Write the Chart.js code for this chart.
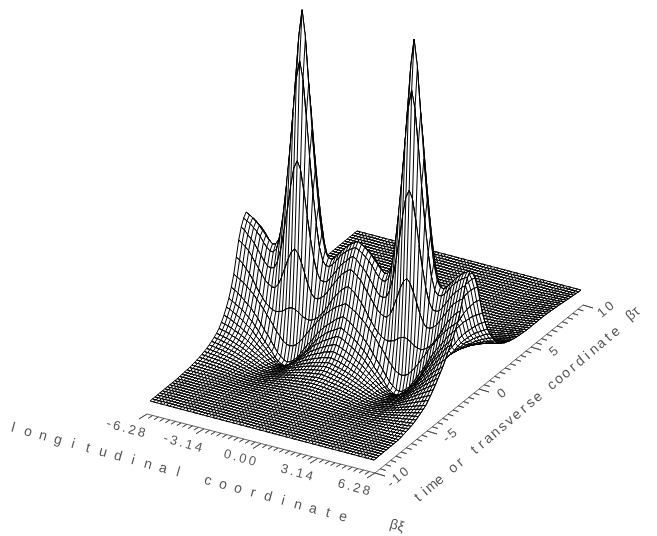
<!DOCTYPE html>
<html>
<head>
<meta charset="utf-8">
<style>
	body { margin: 0; background: #fff; }
	canvas { display: block; }
</style>
<script src="https://cdn.jsdelivr.net/npm/chart.js@4/dist/chart.umd.min.js"></script>
</head>
<body>
<canvas id="chart" width="657" height="536"></canvas>
<script>
// heights, one list per row away from the crest row,
// each going from the tall peak column (first) to the low lobe column (last)
const row0 = [327, 300, 255, 210, 170, 135, 108, 92, 86, 85, 88, 92, 96, 100, 103, 106, 108, 110];
const row1 = [278, 260, 225, 185, 150, 120, 97, 84, 80, 80, 83, 87, 92, 96, 99, 102, 104, 106];
const row2 = [180, 172, 152, 128, 106, 87, 74, 67, 66, 67, 71, 76, 81, 86, 90, 93, 97, 99];
const row3 = [94, 90, 82, 72, 62, 54, 50, 50, 52, 55, 60, 65, 70, 75, 80, 83, 86, 88];
const row4 = [37, 36, 34, 31, 30, 29, 30, 32, 35, 39, 44, 49, 55, 60, 64, 68, 71, 73];
const row5 = [1, 2, 4, 8, 12, 17, 22, 26, 31, 35, 39, 43, 46, 49, 52, 54, 56, 58];
const row6 = [-13, -12, -9, -6, -1, 4, 9, 13, 18, 23, 27, 31, 34, 37, 40, 43, 45, 47];
const row7 = [-15, -14, -12, -9, -4, 0, 4, 8, 13, 17, 21, 24, 27, 30, 32, 34, 36, 38];
const row8 = [-12.5, -12, -10, -7, -4, 0, 3, 7, 10, 14, 17, 19, 22, 24, 26, 28, 30, 31];
const row9 = [-10.5, -10, -8.5, -6.5, -3.5, -0.5, 2, 5, 8, 11, 13, 15, 17.5, 19, 21, 22.5, 24, 25];
const row10 = [-9, -8.5, -7.5, -5.5, -3, -1, 1.5, 4, 6, 8.5, 10.5, 12, 14, 15, 17, 18, 19, 20];
const row11 = [-8, -7.5, -6.5, -5, -3, -1, 0.5, 2.5, 4.5, 6.5, 8, 9.5, 11, 12, 13.5, 14.5, 15, 16];
const row12 = [-7, -6.8, -6, -4.8, -3, -1.6, 0, 1.6, 3.3, 5, 6.2, 7.5, 8.8, 9.8, 10.8, 11.5, 12.3, 13];
const row13 = [-6.5, -6, -5.5, -4.4, -3, -1.6, 0, 1.2, 2.6, 4, 5.2, 6.3, 7.3, 8.2, 9, 9.8, 10.5, 11];
const row14 = [-5.8, -5.5, -5, -4, -2.8, -1.6, -0.5, 0.7, 1.9, 3, 4.1, 5, 5.9, 6.6, 7.4, 8, 8.6, 9];
const row15 = [-5.1, -4.8, -4.3, -3.6, -2.6, -1.6, -0.6, 0.4, 1.4, 2.5, 3.3, 4.1, 4.9, 5.5, 6.1, 6.6, 7.1, 7.5];
const row16 = [-4.5, -4.3, -3.9, -3.2, -2.4, -1.5, -0.7, 0.1, 1, 1.8, 2.5, 3.2, 3.8, 4.3, 4.8, 5.3, 5.7, 6];
const row17 = [-3.9, -3.7, -3.4, -2.8, -2.1, -1.4, -0.7, 0, 0.7, 1.4, 2, 2.6, 3.1, 3.6, 4, 4.4, 4.7, 5];
const row18 = [-3.3, -3.2, -2.9, -2.4, -1.8, -1.2, -0.7, -0.1, 0.5, 1.1, 1.6, 2, 2.5, 2.8, 3.2, 3.5, 3.8, 4];
const row19 = [-2.8, -2.7, -2.4, -2.1, -1.6, -1.1, -0.6, -0.2, 0.3, 0.8, 1.2, 1.6, 1.9, 2.2, 2.5, 2.8, 3, 3.2];
const row20 = [-2.3, -2.2, -2, -1.7, -1.3, -0.9, -0.6, -0.2, 0.2, 0.6, 0.9, 1.2, 1.5, 1.7, 2, 2.2, 2.4, 2.5];
const row21 = [-1.9, -1.8, -1.7, -1.4, -1.1, -0.8, -0.5, -0.2, 0.1, 0.4, 0.7, 1, 1.2, 1.4, 1.6, 1.7, 1.9, 2];
const row22 = [-1.5, -1.4, -1.3, -1.1, -0.9, -0.7, -0.4, -0.2, 0.1, 0.3, 0.5, 0.7, 0.9, 1, 1.2, 1.3, 1.4, 1.5];
const row23 = [-1.1, -1, -0.9, -0.8, -0.7, -0.5, -0.3, -0.1, 0, 0.2, 0.4, 0.5, 0.6, 0.8, 0.9, 0.9, 1, 1.1];
const row24 = [-0.8, -0.8, -0.7, -0.6, -0.5, -0.4, -0.2, -0.1, 0, 0.2, 0.3, 0.4, 0.5, 0.5, 0.6, 0.7, 0.8, 0.8];
const row25 = [-0.5, -0.5, -0.4, -0.4, -0.3, -0.2, -0.1, -0.1, 0, 0.1, 0.2, 0.2, 0.3, 0.4, 0.4, 0.5, 0.5, 0.6];
const row26 = [-0.3, -0.3, -0.3, -0.2, -0.2, -0.1, -0.1, 0, 0, 0.1, 0.1, 0.2, 0.2, 0.2, 0.3, 0.3, 0.4, 0.4];
const row27 = [-0.1, -0.1, -0.1, -0.1, -0.1, 0, 0, 0, 0, 0, 0, 0.1, 0.1, 0.1, 0.1, 0.2, 0.2, 0.2];
const heightRows = [
	row0, row1, row2, row3, row4, row5, row6, row7, row8, row9,
	row10, row11, row12, row13, row14, row15, row16, row17, row18, row19,
	row20, row21, row22, row23, row24, row25, row26, row27,
];

// the right wall stands higher than the repeating pattern, extra height per row
const rightWallFront = [0, 0, 0, 0, 5, 11, 16, 19, 21, 22, 22, 21, 20, 18, 16, 14, 12, 10, 8, 7,
	6, 5, 4, 3, 2.5, 2, 1.5, 1, 0.5];
const rightWallBack = [0, 0, 0, 0, 0, 0, 0, 0, 0, 0, 0, 0, 0.3, 0.7, 1, 1.5, 1.8, 2.1, 2.4, 2.7,
	3, 3.2, 3.4, 3.6, 3.8, 4, 4.2, 4.4, 4.6, 4.5, 4.4, 4.3, 4, 3.8, 3.5, 3.2, 3, 2.6, 2.2, 1.9, 1.5, 1.2, 0.8, 0.5, 0.2];
// how much of that extra height each column nearest the wall takes, wall column first
const rightWallShare = [1, 0.9, 0.8, 0.7, 0.6, 0.5, 0.4, 0.32, 0.24, 0.16, 0.1, 0.05];

const xiTickLabels = ['-6.28', '-3.14', '0.00', '3.14', '6.28'];
const tauTickLabels = ['-10', '-5', '0', '5', '10'];
const xiTitle = 'longitudinal coordinate';
const tauTitle = 'time or transverse coordinate';

const COLS = 68; // mesh cells along the longitudinal axis
const ROWS = 84; // mesh cells along the time axis
const CREST_ROW = 39;
const HALF_PERIOD = 17;

// the surface repeats every 2*HALF_PERIOD columns and mirrors around the crest row
const heightAt = (row, col) => {
	const k = Math.abs(row - CREST_ROW);
	const list = heightRows[k];
	const h = list ? list[Math.abs((col % (2 * HALF_PERIOD)) - HALF_PERIOD)] : 0;
	const extra = row <= CREST_ROW ? rightWallFront[k] : rightWallBack[k];
	return h + (extra || 0) * (rightWallShare[COLS - col] || 0);
};

// parallel projection, a and t run 0..1 along the two base edges
const project = (a, t, h) => ({
	x: 150 + 224 * a + 207 * t,
	y: 401 + 59 * a - 170 * t - h,
});
const meshPoint = (row, col) => project(col / COLS, row / ROWS, heightAt(row, col));

const xiAxisPoint = (a) => ({ x: 147 + 228 * a, y: 414 + 59 * a });
const tauAxisPoint = (t) => ({ x: 375 + 208 * t, y: 473 - 168 * t });

const datasets = [];
const lineStyle = {
	showLine: true,
	pointRadius: 0,
	borderColor: '#000',
	borderWidth: 1,
	tension: 0,
	fill: false,
};

// front strips first, chart.js paints the first dataset last
for (let row = 0; row < ROWS; row++) {
	const lower = [];
	const upper = [];
	const zigzag = [];
	for (let col = 0; col <= COLS; col++) {
		const a = meshPoint(row, col);
		const b = meshPoint(row + 1, col);
		lower.push(a);
		upper.unshift(b);
		if (col % 2 === 0) zigzag.push(a, b);
		else zigzag.push(b, a);
	}
	datasets.push({ ...lineStyle, data: zigzag });
	datasets.push({
		...lineStyle,
		data: lower.concat(upper),
		backgroundColor: '#fff',
		fill: 'shape',
	});
}

// axis lines with their ticks, a spike out and back at each tick
const xiAxis = [];
for (let i = 0; i <= 40; i++) {
	const p = xiAxisPoint(i / 40);
	const len = i % 10 === 0 ? 1 : 0.55;
	xiAxis.push(p, { x: p.x - 8 * len, y: p.y + 5 * len }, p);
}
const tauAxis = [];
for (let i = 0; i <= 40; i++) {
	const p = tauAxisPoint(i / 40);
	const len = i % 10 === 0 ? 1 : 0.55;
	tauAxis.push(p, { x: p.x + 10 * len, y: p.y + 3 * len }, p);
}
datasets.push({ ...lineStyle, data: xiAxis, borderColor: '#444', borderWidth: 0.8 });
datasets.push({ ...lineStyle, data: tauAxis, borderColor: '#444', borderWidth: 0.8 });

const putText = (ctx, text, x, y, angle, font) => {
	ctx.save();
	ctx.translate(x, y);
	ctx.rotate(angle);
	ctx.font = font;
	ctx.fillText(text, 0, 0);
	ctx.restore();
};

const axisText = {
	id: 'axisText',
	afterDraw(chart) {
		const ctx = chart.ctx;
		const xiAngle = 15.5 * Math.PI / 180;
		const tauAngle = -40 * Math.PI / 180;
		const tickFont = '13px "Liberation Sans"';
		const titleFont = '14px "Liberation Sans"';
		ctx.save();
		ctx.fillStyle = '#555';
		ctx.textAlign = 'center';
		ctx.textBaseline = 'middle';
		ctx.letterSpacing = '2.5px';

		xiTickLabels.forEach((label, i) => {
			const p = xiAxisPoint(i / 4);
			putText(ctx, label, p.x - 20, p.y + 15, xiAngle, tickFont);
		});
		tauTickLabels.forEach((label, i) => {
			const p = tauAxisPoint(i / 4);
			putText(ctx, label, p.x + 24, p.y + 4, tauAngle, tickFont);
		});

		ctx.letterSpacing = '0px';
		[...xiTitle].forEach((ch, i) => {
			putText(ctx, ch, 13 + 15 * i, 428 + 4.05 * i, xiAngle, titleFont);
		});
		[...tauTitle].forEach((ch, i) => {
			putText(ctx, ch, 418 + 7.05 * i, 498 - 5.93 * i, tauAngle, titleFont);
		});
		putText(ctx, 'βτ', 633, 314, tauAngle, titleFont);
		putText(ctx, 'βξ', 397, 526, xiAngle, titleFont);
		ctx.restore();
	},
};

new Chart(document.getElementById('chart').getContext('2d'), {
	type: 'scatter',
	data: { datasets },
	plugins: [axisText],
	options: {
		responsive: false,
		animation: false,
		events: [],
		layout: { padding: 0 },
		plugins: {
			legend: { display: false },
			tooltip: { enabled: false },
		},
		scales: {
			x: { type: 'linear', min: 0, max: 657, display: false },
			y: { type: 'linear', min: 0, max: 536, reverse: true, display: false },
		},
	},
});
</script>
</body>
</html>
